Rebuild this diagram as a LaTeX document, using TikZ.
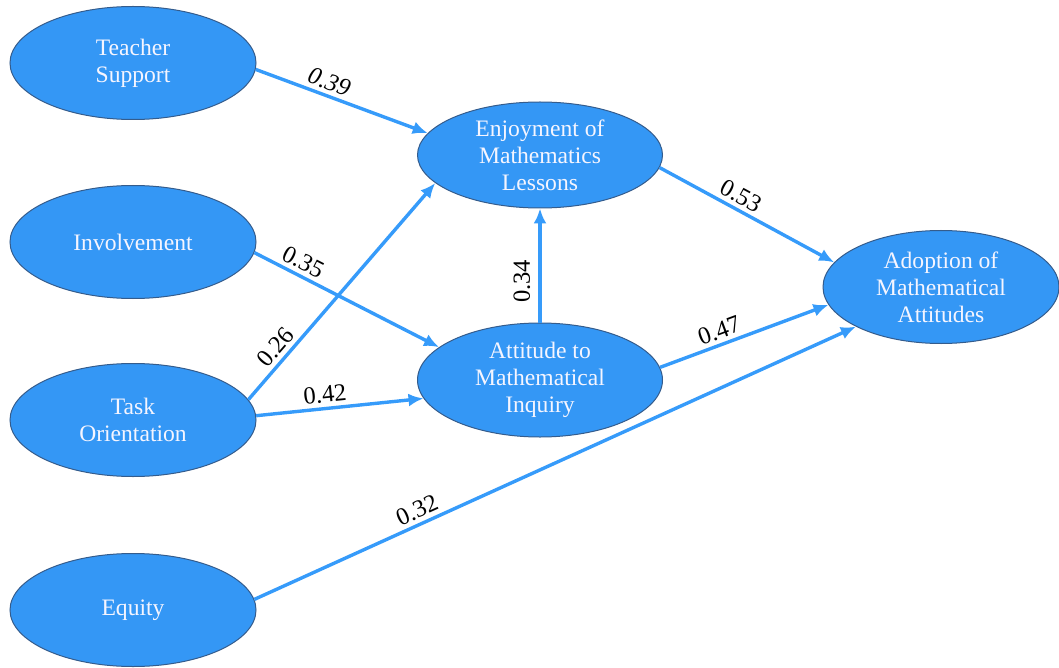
\documentclass[tikz,border=0pt]{standalone}
\usepackage{fontspec}
\setmainfont{Liberation Serif}
\usepackage{tikz}
\usetikzlibrary{shapes.geometric,arrows.meta}
\definecolor{nodeblue}{RGB}{52,151,245}
\definecolor{edgeblue}{RGB}{54,155,250}
\definecolor{rimblue}{RGB}{52,92,140}

\begin{document}
\begin{tikzpicture}[x=0.5pt, y=-0.5pt,
    construct/.style={ellipse, draw=rimblue, line width=0.5pt, fill=nodeblue, text=white!96!blue,
      inner sep=0pt, minimum width=123pt, minimum height=56.5pt, align=center,
      font=\fontsize{11.8}{13.5}\selectfont},
    effect/.style={draw=edgeblue, line width=1.7pt, -{Latex[length=7.5pt,width=6.5pt]}},
    weight/.style={sloped, above, inner sep=2pt, text=black, font=\fontsize{12.3}{13}\selectfont}]
\useasboundingbox (0,0) rectangle (1059,668);
% exogenous
\node[construct] (TS) at (133,63) {Teacher\\Support};
\node[construct] (Inv) at (133,242) {Involvement};
\node[construct] (TO) at (133,420) {Task\\Orientation};
\node[construct] (Eq) at (133,610) {Equity};
% mediators and outcome
\node[construct, minimum width=122.5pt, minimum height=53pt] (Enj) at (540,155) {Enjoyment of\\Mathematics\\Lessons};
\node[construct, minimum width=122.5pt, minimum height=57pt] (Att) at (540,380) {Attitude to\\Mathematical\\Inquiry};
\node[construct, minimum width=118pt] (Adop) at (941,287) {Adoption of\\Mathematical\\Attitudes};

\draw[effect] (TS.-3) -- node[weight, pos=0.4] {\itshape 0.39} (Enj.169);
\draw[effect] (Inv.-5) -- node[weight, pos=0.23] {0.35} (Att.162);
\draw[effect] (TO.10) -- node[weight, pos=0.2] {0.26} (Enj.195);
\draw[effect] (TO.2) -- node[weight, pos=0.42] {0.42} (Att.189);
\draw[effect] (Att.north) -- node[weight, pos=0.36, inner sep=4pt] {0.34} (Enj.south);
\draw[effect] (Enj.-6) -- node[weight, pos=0.43] {0.53} (Adop.167);
\draw[effect] (Att.6) -- node[weight, pos=0.38] {0.47} (Adop.189);
\draw[effect] (Eq.5) -- node[weight, pos=0.28] {0.32} (Adop.205);
\end{tikzpicture}
\end{document}
